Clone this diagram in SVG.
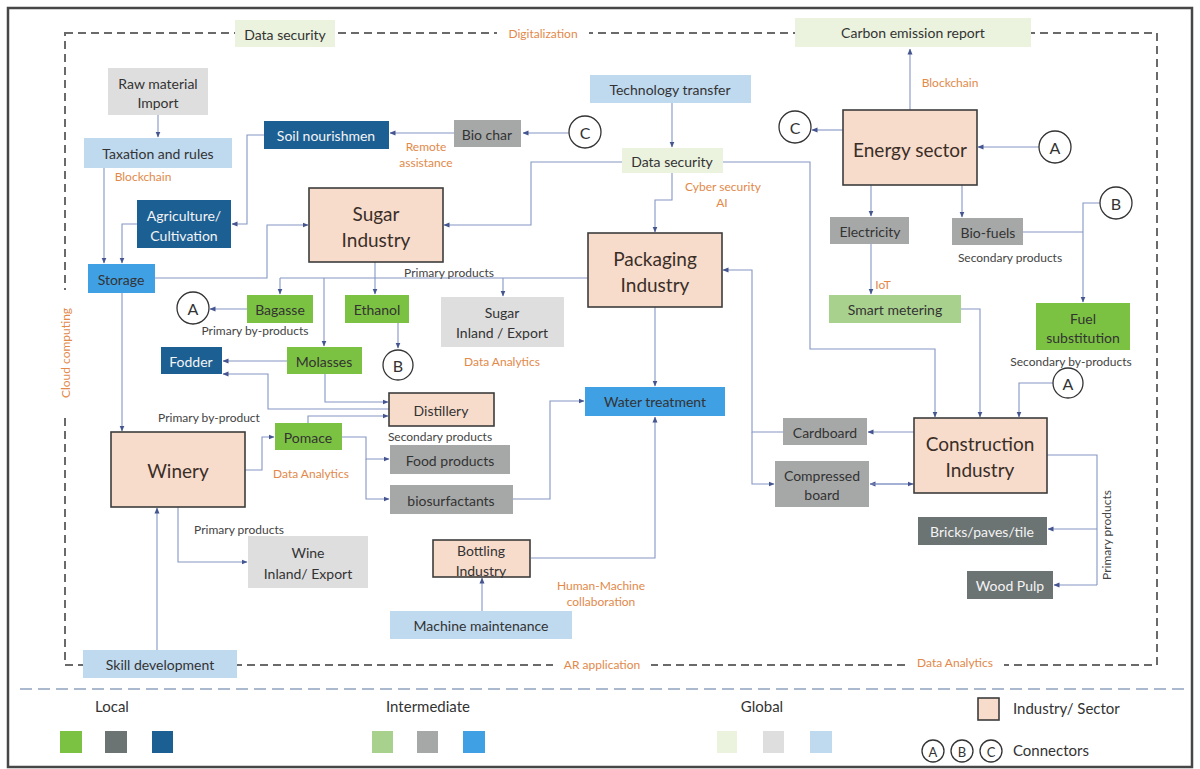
<svg xmlns="http://www.w3.org/2000/svg" width="1200" height="769" viewBox="0 0 1200 769">
<defs>
<marker id="ar" viewBox="0 0 6 6" refX="5.5" refY="3" markerWidth="6" markerHeight="6" orient="auto" markerUnits="userSpaceOnUse"><path d="M0,0.5 L6,3 L0,5.5 z" fill="#44558f"/></marker>
<style>
text{font-family:Lato,"Open Sans","Liberation Sans",sans-serif;fill:#333}
.t{font-size:14px;text-anchor:middle;dominant-baseline:central}
.big{font-size:19px;text-anchor:middle;dominant-baseline:central;fill:#3a2e28}
.sm{font-size:12px;fill:#444}
.or{font-size:12px;fill:#e2894a}
.w{fill:#f4f4f4}
.ind{fill:#f8dccb;stroke:#3d3d3d;stroke-width:1.6}
.lg{fill:#7cc242}.dg{fill:#6b7373}.db{fill:#1c5f93}
.lgr{fill:#a9d18e}.gy{fill:#a6a8a8}.bl{fill:#40a0e4}
.pg{fill:#ebf2dd}.lgy{fill:#dedede}.lb{fill:#bfd9ef}
.c{fill:#fff;stroke:#333;stroke-width:1.3}
.ct{font-size:16px;text-anchor:middle;dominant-baseline:central;fill:#333}
#connectors path{fill:none;stroke:#8596c6;stroke-width:1.1}
.ah{marker-end:url(#ar)}
</style>
</defs>
<rect x="0" y="0" width="1200" height="769" fill="#fff"/>
<rect x="8" y="8" width="1184" height="759" fill="none" stroke="#474747" stroke-width="2.5"/>
<!-- frame dashed -->
<rect x="65" y="33" width="1092" height="632" fill="none" stroke="#6a6a6a" stroke-width="2" stroke-dasharray="8 5"/>
<line x1="20" y1="689" x2="1188" y2="689" stroke="#8fa3bd" stroke-width="1.6" stroke-dasharray="12 6"/>
<g id="frame-labels">
<rect x="497" y="24" width="92" height="18" fill="#fff"/>
<text class="or" x="543" y="38" text-anchor="middle">Digitalization</text>
<rect x="56" y="290" width="18" height="128" fill="#fff"/>
<text class="or" transform="translate(70,353) rotate(-90)" text-anchor="middle">Cloud computing</text>
<rect x="553" y="656" width="98" height="18" fill="#fff"/>
<text class="or" x="602" y="669" text-anchor="middle">AR application</text>
<rect x="906" y="654" width="98" height="18" fill="#fff"/>
<text class="or" x="955" y="667" text-anchor="middle">Data Analytics</text>
</g>

<g id="connectors">
<path class="ah" d="M158,115 V137"/>
<path class="ah" d="M104,168 V263"/>
<path class="ah" d="M137,224 H122 V263"/>
<path class="ah" d="M264,135 H247 V224 H232"/>
<path class="ah" d="M454,133 H390"/>
<path class="ah" d="M569,133 H523"/>
<path class="ah" d="M155,278 H267 V225 H308"/>
<path class="ah" d="M622,162 H531 V225 H444"/>
<path class="ah" d="M723,162 H810 V349 H935 V417"/>
<path class="ah" d="M672,103 V147"/>
<path class="ah" d="M672,173 V200 H655 V232"/>
<path class="ah" d="M375,262 V294"/>
<path d="M280,278 H588"/>
<path class="ah" d="M280,278 V294"/>
<path class="ah" d="M503,278 V296"/>
<path class="ah" d="M324,278 V346"/>
<path class="ah" d="M247,309 H210"/>
<path class="ah" d="M398,323 V348"/>
<path class="ah" d="M287,361 H223"/>
<path class="ah" d="M325,374 V402 H388"/>
<path class="ah" d="M389,409 H268 V374 H223"/>
<path class="ah" d="M308,423 V416 H388"/>
<path class="ah" d="M245,470 H262 V437 H274"/>
<path class="ah" d="M342,437 H366 V459 H389"/>
<path class="ah" d="M366,459 V499 H389"/>
<path class="ah" d="M513,499 H550 V401 H584"/>
<path class="ah" d="M655,307 V386"/>
<path class="ah" d="M531,558 H655 V417"/>
<path class="ah" d="M482,611 V578"/>
<path class="ah" d="M122,293 V431"/>
<path class="ah" d="M157,650 V508"/>
<path class="ah" d="M178,507 V562 H247"/>
<path class="ah" d="M843,130 H812"/>
<path class="ah" d="M1039,147 H978"/>
<path class="ah" d="M910,110 V49"/>
<path class="ah" d="M871,185 V216"/>
<path class="ah" d="M962,185 V217"/>
<path class="ah" d="M871,244 V294"/>
<path class="ah" d="M961,309 H980 V417"/>
<path d="M1023,232 H1083"/>
<path class="ah" d="M1100,203 H1083 V302"/>
<path class="ah" d="M1053,383 H1019 V417"/>
<path class="ah" d="M914,432 H868"/>
<path class="ah" d="M914,484 H870"/>
<path class="ah" d="M870,484 H913"/>
<path class="ah" d="M783,432 H752 V270 H723"/>
<path class="ah" d="M752,432 V484 H774"/>
<path d="M1047,455 H1097 V585"/>
<path class="ah" d="M1097,529 H1048"/>
<path class="ah" d="M1097,585 H1054"/>
</g>

<g id="data-security-top"><rect class="pg" x="235" y="20" width="100" height="27"/><text class="t" x="285" y="34">Data security</text></g>
<g id="carbon-emission-report"><rect class="pg" x="795" y="18" width="236" height="29"/><text class="t" x="913" y="32">Carbon emission report</text></g>
<g id="skill-development"><rect class="lb" x="83" y="650" width="154" height="28"/><text class="t" x="160" y="664">Skill development</text></g>

<g id="raw-material"><rect class="lgy" x="108" y="68" width="100" height="47"/><text class="t" x="158" y="83">Raw material</text><text class="t" x="158" y="102">Import</text></g>
<g id="taxation"><rect class="lb" x="84" y="138" width="148" height="30"/><text class="t" x="158" y="153">Taxation and rules</text><text class="or" x="143" y="181" text-anchor="middle">Blockchain</text></g>
<g id="soil"><rect class="db" x="264" y="121" width="125" height="28"/><text class="t w" x="326" y="135">Soil nourishmen</text></g>
<g id="agriculture"><rect class="db" x="137" y="200" width="94" height="48"/><text class="t w" x="184" y="215">Agriculture/</text><text class="t w" x="184" y="235">Cultivation</text></g>
<g id="storage"><rect class="bl" x="88" y="264" width="67" height="29"/><text class="t" x="121" y="279">Storage</text></g>
<g id="sugar-industry"><rect class="ind" x="309" y="188" width="134" height="74"/><text class="big" x="376" y="213">Sugar</text><text class="big" x="376" y="239">Industry</text></g>
<g id="bio-char"><rect class="gy" x="454" y="120" width="67" height="27"/><text class="t" x="487" y="134">Bio char</text></g>
<g id="remote-label"><text class="or" x="426" y="151" text-anchor="middle">Remote</text><text class="or" x="426" y="167" text-anchor="middle">assistance</text></g>
<g id="tech-transfer"><rect class="lb" x="590" y="75" width="161" height="28"/><text class="t" x="670" y="89">Technology transfer</text></g>
<g id="data-security-mid"><rect class="pg" x="622" y="148" width="101" height="25"/><text class="t" x="672" y="161">Data security</text><text class="or" x="723" y="191" text-anchor="middle">Cyber security</text><text class="or" x="722" y="207" text-anchor="middle">AI</text></g>
<g id="packaging"><rect class="ind" x="588" y="233" width="134" height="74"/><text class="big" x="655" y="258">Packaging</text><text class="big" x="655" y="284">Industry</text></g>
<g id="energy"><rect class="ind" x="843" y="110" width="134" height="75"/><text class="big" x="910" y="149">Energy sector</text><text class="or" x="950" y="87" text-anchor="middle">Blockchain</text></g>
<g id="electricity"><rect class="gy" x="830" y="217" width="79" height="27"/><text class="t" x="870" y="231">Electricity</text></g>
<g id="bio-fuels"><rect class="gy" x="952" y="218" width="71" height="27"/><text class="t" x="988" y="232">Bio-fuels</text><text class="sm" x="1010" y="262" text-anchor="middle">Secondary products</text></g>
<g id="smart-metering"><rect class="lgr" x="829" y="295" width="132" height="28"/><text class="t" x="895" y="309">Smart metering</text><text class="or" x="883" y="289" text-anchor="middle">IoT</text></g>
<g id="fuel-substitution"><rect class="lg" x="1036" y="303" width="94" height="47"/><text class="t" x="1083" y="318">Fuel</text><text class="t" x="1083" y="337">substitution</text><text class="sm" x="1071" y="366" text-anchor="middle">Secondary by-products</text></g>
<g id="construction"><rect class="ind" x="914" y="418" width="133" height="75"/><text class="big" x="980" y="443">Construction</text><text class="big" x="980" y="469">Industry</text></g>
<g id="cardboard"><rect class="gy" x="783" y="418" width="84" height="27"/><text class="t" x="825" y="432">Cardboard</text></g>
<g id="compressed-board"><rect class="gy" x="775" y="461" width="94" height="46"/><text class="t" x="822" y="475">Compressed</text><text class="t" x="822" y="494">board</text></g>
<g id="bricks"><rect class="dg" x="918" y="517" width="129" height="28"/><text class="t w" x="982" y="531">Bricks/paves/tile</text></g>
<g id="wood-pulp"><rect class="dg" x="967" y="571" width="86" height="28"/><text class="t w" x="1010" y="585">Wood Pulp</text></g>
<text class="sm" transform="translate(1111,535) rotate(-90)" text-anchor="middle">Primary products</text>
<g id="water-treatment"><rect class="bl" x="585" y="387" width="140" height="29"/><text class="t" x="655" y="401">Water treatment</text></g>
<g id="sugar-export"><rect class="lgy" x="441" y="297" width="123" height="50"/><text class="t" x="502" y="312">Sugar</text><text class="t" x="502" y="332">Inland / Export</text><text class="or" x="502" y="366" text-anchor="middle">Data Analytics</text></g>
<text class="sm" x="449" y="277" text-anchor="middle">Primary products</text>
<g id="bagasse"><rect class="lg" x="247" y="295" width="66" height="28"/><text class="t" x="280" y="309">Bagasse</text><text class="sm" x="255" y="335" text-anchor="middle">Primary by-products</text></g>
<g id="ethanol"><rect class="lg" x="345" y="295" width="64" height="28"/><text class="t" x="377" y="309">Ethanol</text></g>
<g id="molasses"><rect class="lg" x="287" y="347" width="75" height="27"/><text class="t" x="324" y="361">Molasses</text></g>
<g id="fodder"><rect class="db" x="161" y="347" width="61" height="27"/><text class="t w" x="191" y="361">Fodder</text></g>
<g id="distillery"><rect class="ind" x="389" y="393" width="105" height="33"/><text class="t" x="441" y="410">Distillery</text><text class="sm" x="440" y="441" text-anchor="middle">Secondary products</text></g>
<text class="sm" x="209" y="422" text-anchor="middle">Primary by-product</text>
<g id="pomace"><rect class="lg" x="275" y="423" width="67" height="27"/><text class="t" x="308" y="437">Pomace</text><text class="or" x="311" y="478" text-anchor="middle">Data Analytics</text></g>
<g id="winery"><rect class="ind" x="111" y="432" width="134" height="75"/><text class="big" x="178" y="470">Winery</text></g>
<g id="food-products"><rect class="gy" x="390" y="445" width="120" height="29"/><text class="t" x="450" y="460">Food products</text></g>
<g id="biosurfactants"><rect class="gy" x="390" y="485" width="123" height="29"/><text class="t" x="451" y="500">biosurfactants</text></g>
<text class="sm" x="239" y="534" text-anchor="middle">Primary products</text>
<g id="wine-export"><rect class="lgy" x="248" y="536" width="120" height="52"/><text class="t" x="308" y="552">Wine</text><text class="t" x="308" y="573">Inland/ Export</text></g>
<g id="bottling"><rect class="ind" x="433" y="540" width="97" height="37"/><text class="t" x="481" y="550">Bottling</text><text class="t" x="481" y="570">Industry</text></g>
<g id="hmc-label"><text class="or" x="601" y="590" text-anchor="middle">Human-Machine</text><text class="or" x="601" y="606" text-anchor="middle">collaboration</text></g>
<g id="machine-maintenance"><rect class="lb" x="390" y="611" width="182" height="28"/><text class="t" x="481" y="625">Machine maintenance</text></g>

<g id="circle-C1"><circle class="c" cx="585" cy="132" r="16"/><text class="ct" x="585" y="132">C</text></g>
<g id="circle-C2"><circle class="c" cx="795" cy="127" r="16"/><text class="ct" x="795" y="127">C</text></g>
<g id="circle-A1"><circle class="c" cx="1055" cy="147" r="16"/><text class="ct" x="1055" y="147">A</text></g>
<g id="circle-B1"><circle class="c" cx="1116" cy="203" r="16"/><text class="ct" x="1116" y="203">B</text></g>
<g id="circle-A2"><circle class="c" cx="1068" cy="383" r="15"/><text class="ct" x="1068" y="383">A</text></g>
<g id="circle-A3"><circle class="c" cx="193" cy="308" r="16"/><text class="ct" x="193" y="308">A</text></g>
<g id="circle-B2"><circle class="c" cx="398" cy="365" r="15"/><text class="ct" x="398" y="365">B</text></g>

<g id="legend">
<text x="112" y="712" font-size="15" text-anchor="middle">Local</text>
<rect class="lg" x="60" y="731" width="22" height="22"/>
<rect class="dg" x="105" y="731" width="22" height="22"/>
<rect class="db" x="152" y="731" width="21" height="22"/>
<text x="428" y="712" font-size="15" text-anchor="middle">Intermediate</text>
<rect class="lgr" x="372" y="731" width="21" height="22"/>
<rect class="gy" x="417" y="731" width="21" height="22"/>
<rect class="bl" x="463" y="731" width="22" height="22"/>
<text x="762" y="712" font-size="15" text-anchor="middle">Global</text>
<rect class="pg" x="717" y="731" width="20" height="22"/>
<rect class="lgy" x="763" y="731" width="21" height="22"/>
<rect class="lb" x="810" y="731" width="22" height="22"/>
<rect class="ind" x="978" y="698" width="21" height="22"/>
<text x="1013" y="714" font-size="15">Industry/ Sector</text>
<circle class="c" cx="933" cy="751" r="11"/><text x="933" y="752" font-size="13" text-anchor="middle" dominant-baseline="central">A</text>
<circle class="c" cx="962" cy="751" r="11"/><text x="962" y="752" font-size="13" text-anchor="middle" dominant-baseline="central">B</text>
<circle class="c" cx="991" cy="751" r="11"/><text x="991" y="752" font-size="13" text-anchor="middle" dominant-baseline="central">C</text>
<text x="1013" y="756" font-size="15">Connectors</text>
</g>
</svg>
